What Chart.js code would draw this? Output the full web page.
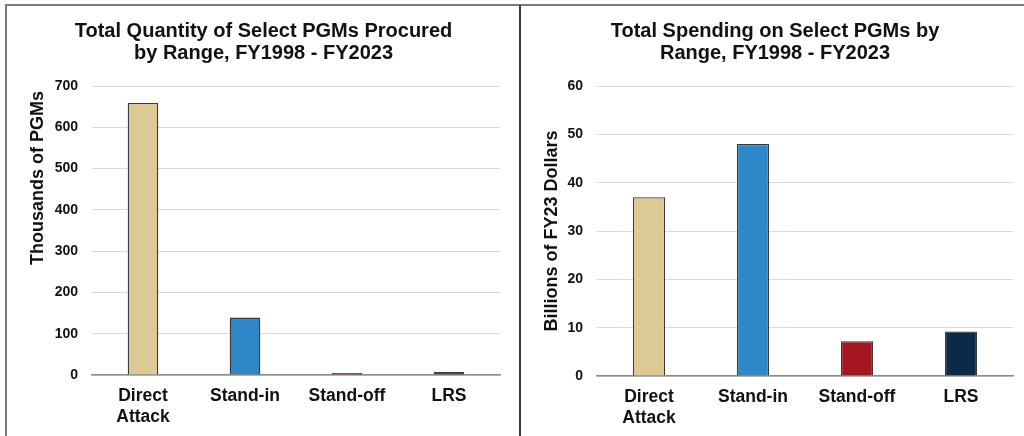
<!DOCTYPE html>
<html>
<head>
<meta charset="utf-8">
<script src="https://cdn.jsdelivr.net/npm/chart.js@4"></script>
<style>
  html, body { margin: 0; padding: 0; background: #ffffff; }
  body { width: 1024px; height: 436px; position: relative; overflow: hidden; }
  .frame-top { position: absolute; left: 5px; top: 4px; width: 1019px; height: 2px; background: #7a7a7a; }
  .frame-left { position: absolute; left: 5px; top: 4px; width: 2px; height: 432px; background: #7a7a7a; }
  .divider { position: absolute; left: 519px; top: 5px; width: 2px; height: 431px; background: #3a3a3a; }
  .panel { position: absolute; top: 6px; }
  #leftPanel { left: 7px; width: 511px; height: 430px; }
  #rightPanel { left: 521px; width: 503px; height: 430px; }
</style>
</head>
<body>
<div class="frame-top"></div>
<div class="frame-left"></div>
<div class="divider"></div>
<div class="panel" id="leftPanel"><canvas id="qtyChart" width="511" height="430"></canvas></div>
<div class="panel" id="rightPanel"><canvas id="spendChart" width="503" height="430"></canvas></div>
<script>
// Weapon range categories
const categories = [["Direct", "Attack"], "Stand-in", "Stand-off", "LRS"];
const categoryColors = ["#dcc993", "#2f86c8", "#a31622", "#0b2a4a"];

// Total PGMs procured, thousands
const quantityThousands = [659, 139, 5, 7];
const quantityTicks = [0, 100, 200, 300, 400, 500, 600, 700];

// Total spending, billions of FY23 dollars
const spendingBillions = [37, 48, 7.2, 9.2];
const spendingTicks = [0, 10, 20, 30, 40, 50, 60];

const FONT = "'Liberation Sans', Arial, Helvetica, sans-serif";

function buildChart(canvasId, cfg) {
  return new Chart(document.getElementById(canvasId), {
    type: "bar",
    data: {
      labels: categories,
      datasets: [{
        data: cfg.values,
        backgroundColor: categoryColors,
        borderColor: "#3a3a3a",
        borderWidth: 1.3,
        barPercentage: cfg.barPct,
        categoryPercentage: 1.0
      }]
    },
    options: {
      responsive: false,
      animation: false,
      layout: { padding: { top: 14, left: cfg.leftPad, right: cfg.rightPad, bottom: 0 } },
      plugins: {
        legend: { display: false },
        tooltip: { enabled: false },
        title: {
          display: true,
          text: cfg.title,
          color: "#111111",
          font: { family: FONT, size: 20, weight: "bold", lineHeight: 1.1 },
          padding: { top: 0, bottom: 22 }
        }
      },
      scales: {
        x: {
          grid: { display: false, drawTicks: false },
          border: { display: true, color: "#8c8c8c", width: 1.6 },
          ticks: {
            color: "#111111",
            font: { family: FONT, size: 17.5, weight: "bold", lineHeight: 1.2 },
            padding: 11,
            maxRotation: 0,
            autoSkip: false
          },
          afterFit: s => { s.height = cfg.xHeight; }
        },
        y: {
          min: 0,
          max: cfg.max,
          afterBuildTicks: s => { s.ticks = cfg.ticks.map(v => ({ value: v })); },
          grid: { color: "#d9d9d9", lineWidth: 1, drawTicks: false },
          border: { display: false },
          ticks: {
            color: "#111111",
            font: { family: FONT, size: 14, weight: "bold" },
            padding: 14
          },
          title: {
            display: true,
            text: cfg.yTitle,
            align: cfg.yTitleAlign,
            color: "#111111",
            font: { family: FONT, size: 18, weight: "bold", lineHeight: 1.2 },
            padding: { top: cfg.yTitlePad, bottom: 0 }
          },
          afterFit: s => { s.width = cfg.yWidth; }
        }
      }
    }
  });
}

buildChart("qtyChart", {
  values: quantityThousands,
  ticks: quantityTicks,
  max: 700,
  title: ["Total Quantity of Select PGMs Procured", "by Range, FY1998 - FY2023"],
  yTitle: "Thousands of PGMs ",
  yTitleAlign: "end",
  yTitlePad: 0,
  leftPad: 20,
  yWidth: 65,
  xHeight: 61,
  rightPad: 18,
  barPct: 0.30
});

buildChart("spendChart", {
  values: spendingBillions,
  ticks: spendingTicks,
  max: 60,
  title: ["Total Spending on Select PGMs by", "Range, FY1998 - FY2023"],
  yTitle: "Billions of FY23 Dollars",
  yTitleAlign: "center",
  yTitlePad: 4,
  leftPad: 16,
  yWidth: 60,
  xHeight: 60,
  rightPad: 11,
  barPct: 0.31
});
</script>
</body>
</html>
